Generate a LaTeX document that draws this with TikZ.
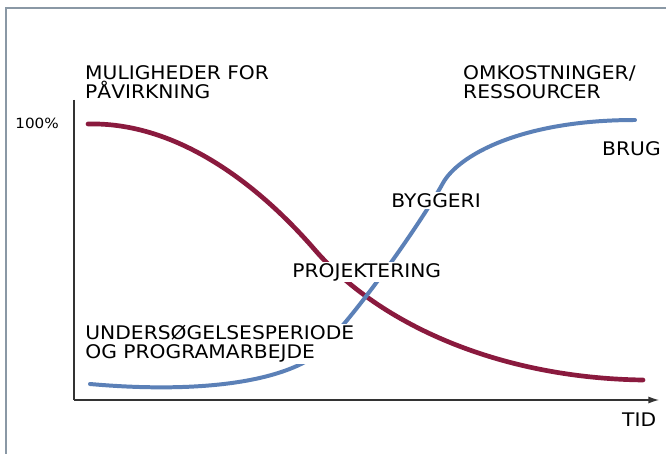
\documentclass[tikz,border=0pt]{standalone}
\usepackage{fontspec}
\setmainfont{DejaVu Sans}[FakeStretch=1.08]
\usetikzlibrary{arrows.meta}
\definecolor{mulired}{HTML}{8A1A3E}
\definecolor{costblue}{HTML}{5B80B7}
\definecolor{framegray}{HTML}{8A98A5}
\definecolor{axisgray}{HTML}{333333}

\begin{document}
\begin{tikzpicture}[x=0.03cm,y=-0.03cm,
	lbl/.style={inner sep=0pt,align=left,font=\fontsize{16}{16.3}\selectfont},
	cutlbl/.style={lbl,fill=white,inner sep=1pt},
	axis/.style={axisgray,line width=1.1pt},
	redline/.style={mulired,line width=4pt,line cap=round},
	blueline/.style={costblue,line width=3.4pt,line cap=round}]
	\useasboundingbox[fill=white] (0,0) rectangle (666,454);
	
	\draw[framegray,line width=1.3pt] (6,470) -- (6,8) -- (680,8);
	
	\coordinate (origo) at (74,400);
	\coordinate (ytop) at (74,100);
	\coordinate (xend) at (659,400);
	\draw[axis] (ytop) -- (origo);
	\draw[axis,-{Latex[length=9pt,width=6pt]}] (origo) -- (xend);
	
	\draw[redline] (88,124) .. controls (170,122) and (250,175) .. (315,250)
		.. controls (380,325) and (500,378) .. (643,380);
	\draw[blueline] (90,384) .. controls (180,392) and (260,386) .. (305,362)
		.. controls (335,346) and (420,225) .. (443,183)
		.. controls (458,156) and (520,120) .. (635,120);
	
	\node[lbl,anchor=north west] (muligheder) at (85,65) {MULIGHEDER FOR\\PÅVIRKNING};
	\node[lbl,anchor=north west] (omkostninger) at (463,65) {OMKOSTNINGER/\\RESSOURCER};
	\node[lbl,anchor=east,font=\fontsize{12}{13}\selectfont] (hundrede) at (59,123) {100\%};
	\node[lbl,anchor=north west] (brug) at (602,141) {BRUG};
	\node[cutlbl,anchor=north west] (byggeri) at (390,192) {BYGGERI};
	\node[cutlbl,anchor=north west] (projektering) at (291,262) {PROJEKTERING};
	\node[cutlbl,anchor=north west] (undersoegelse) at (84,324) {UNDERSØGELSESPERIODE\\OG PROGRAMARBEJDE};
	\node[lbl,anchor=north west] (tid) at (622,413) {TID};
\end{tikzpicture}
\end{document}
